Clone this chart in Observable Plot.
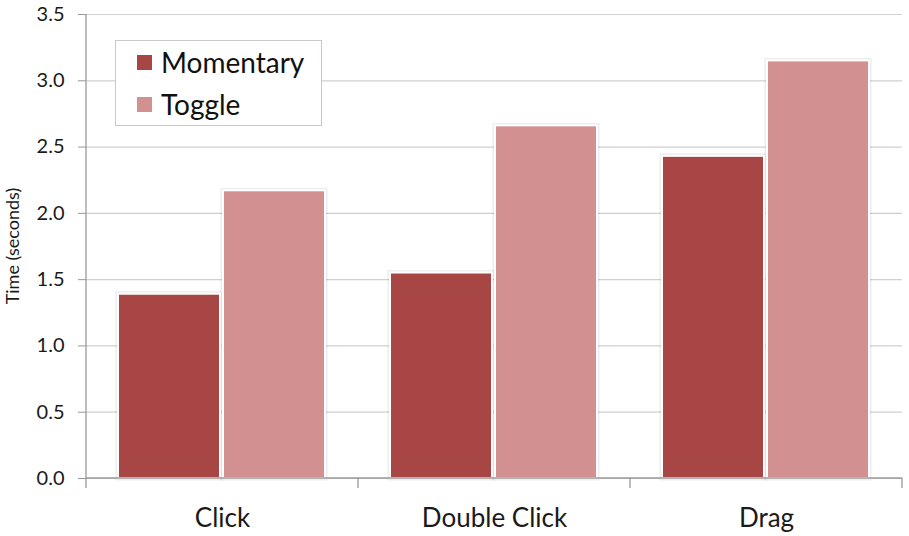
<!DOCTYPE html>
<html>
<head>
<meta charset="utf-8">
<script src="https://cdn.jsdelivr.net/npm/d3@7"></script>
<script src="https://cdn.jsdelivr.net/npm/@observablehq/plot@0.6"></script>
<style>
  html, body { margin: 0; padding: 0; background: #fff; }
  #wrap { position: relative; width: 909px; height: 536px; font-family: Lato, "Open Sans", sans-serif; }
  #legend { position: absolute; left: 115px; top: 40px; width: 207px; height: 86px; border: 1.5px solid #c8c8c8; background: #fff; box-sizing: border-box; }
  .li { position: absolute; left: 21px; display: flex; align-items: center; font-size: 28px; line-height: 30px; color: #111; }
  .sw { width: 15px; height: 15px; margin-right: 9px; }
</style>
</head>
<body>
<div id="wrap"></div>
<script>
const categories = ["Click", "Double Click", "Drag"];
const series = ["Momentary", "Toggle"];
const momentary = [1.39, 1.55, 2.43];
const toggle = [2.17, 2.66, 3.15];
const colors = ["#A84646", "#D29090"];
const yTicks = [0, 0.5, 1.0, 1.5, 2.0, 2.5, 3.0, 3.5];

const data = [];
categories.forEach((c, i) => {
  data.push({category: c, series: series[0], value: momentary[i]});
  data.push({category: c, series: series[1], value: toggle[i]});
});

const chart = Plot.plot({
  width: 909,
  height: 536,
  marginLeft: 86,
  marginRight: 7,
  marginTop: 14,
  marginBottom: 58,
  style: {fontFamily: "Lato, 'Open Sans', sans-serif", color: "#1a1a1a", background: "#fff"},
  fx: {domain: categories, padding: 0, label: null},
  x: {domain: series, paddingInner: 0.028, paddingOuter: 0.307, axis: null},
  y: {domain: [0, 3.5], label: "Time (seconds)"},
  color: {domain: series, range: colors},
  marks: [
    Plot.gridY(yTicks, {stroke: "#d0d0d0", strokeOpacity: 1, strokeWidth: 1.2}),
    Plot.barY(data, {fx: "category", x: "series", y: "value", fill: "#000", fillOpacity: 0.06, stroke: "#000", strokeOpacity: 0.07, strokeWidth: 5}),
    Plot.barY(data, {fx: "category", x: "series", y: "value", fill: "series", stroke: "#fff", strokeWidth: 2}),
    Plot.axisY(yTicks, {tickFormat: d3.format(".1f"), tickSize: 8, tickPadding: 14, fontSize: 20, stroke: "#999", label: null}),
    Plot.axisFx({anchor: "bottom", tickSize: 0, tickPadding: 30, fontSize: 26, label: null})
  ]
});

document.getElementById("wrap").appendChild(chart);

// axis lines, category boundary ticks and y label, positioned through Plot's own scales
const svg = d3.select(chart);
const fx = chart.scale("fx");
const y = chart.scale("y");
const x0 = fx.apply(categories[0]);
const bw = fx.bandwidth;
const y0 = y.apply(0);
const yTop = y.apply(3.5);
const g = svg.append("g").attr("stroke", "#9a9a9a").attr("stroke-width", 1.3);
g.append("line").attr("x1", x0).attr("x2", x0).attr("y1", yTop).attr("y2", y0 + 10);
g.append("line").attr("x1", x0).attr("x2", fx.apply(categories[categories.length - 1]) + bw).attr("y1", y0).attr("y2", y0);
categories.forEach((c) => {
  const xb = fx.apply(c) + bw;
  g.append("line").attr("x1", xb).attr("x2", xb).attr("y1", y0).attr("y2", y0 + 10);
});
svg.append("text")
  .attr("transform", `translate(12,${(y0 + yTop) / 2}) rotate(-90)`)
  .attr("text-anchor", "middle")
  .attr("dominant-baseline", "central")
  .style("font-size", "18px")
  .attr("fill", "#1a1a1a")
  .text("Time (seconds)");

// legend
const legend = document.createElement("div");
legend.id = "legend";
series.forEach((s, i) => {
  const item = document.createElement("div");
  item.className = "li";
  item.style.top = (i === 0 ? 6 : 48) + "px";
  item.innerHTML = `<span class="sw" style="background:${colors[i]}"></span><span>${s}</span>`;
  legend.appendChild(item);
});
document.getElementById("wrap").appendChild(legend);
</script>
</body>
</html>
